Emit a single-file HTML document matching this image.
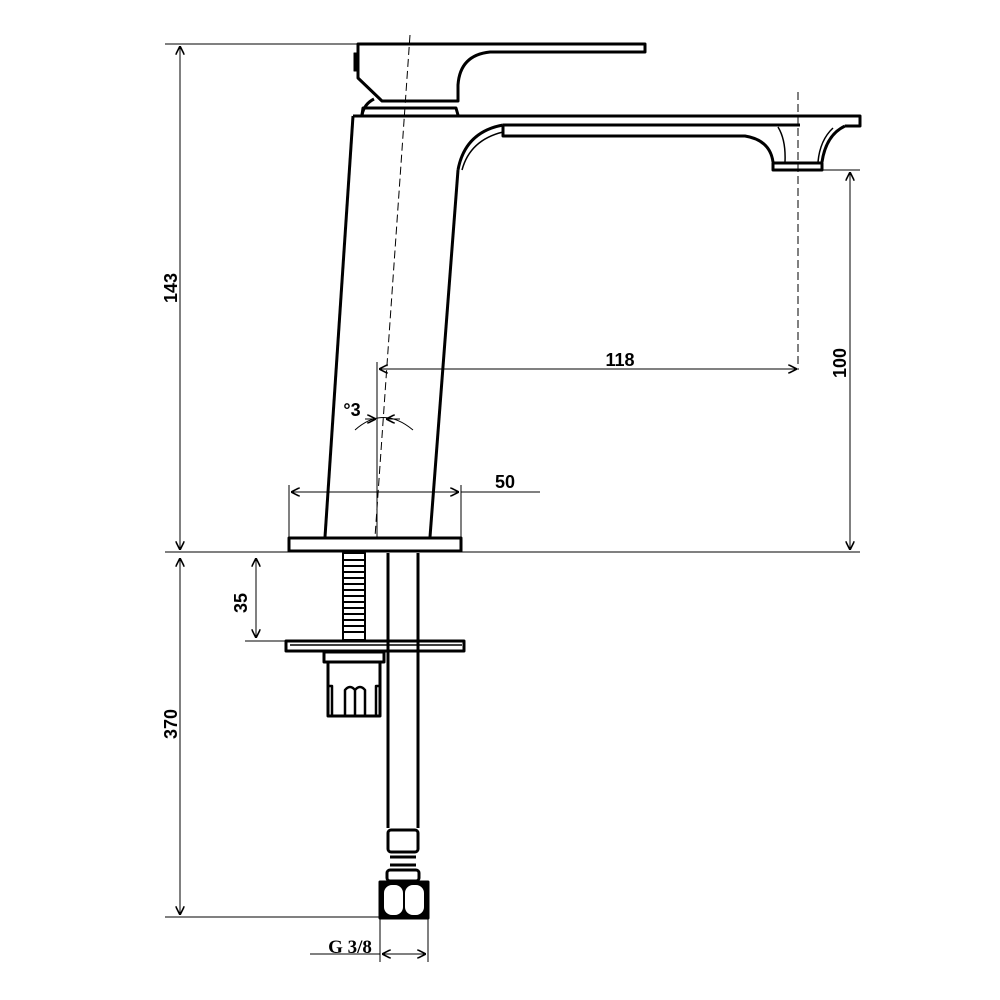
<!DOCTYPE html>
<html><head><style>html,body{margin:0;padding:0;background:#fff}svg{display:block}</style></head><body>
<svg width="1000" height="1000" viewBox="0 0 1000 1000" xmlns="http://www.w3.org/2000/svg" font-family="Liberation Sans, sans-serif">
<defs>
<marker id="a" viewBox="0 0 10 10" refX="10" refY="5" markerWidth="9" markerHeight="9" orient="auto-start-reverse" markerUnits="userSpaceOnUse"><path d="M0,0 L10,5 L0,10" fill="none" stroke="#000" stroke-width="1.8"/></marker>
</defs>
<g stroke="#000" fill="none" stroke-width="1">
<line x1="165" y1="44" x2="358" y2="44"/>
<line x1="165" y1="552" x2="860" y2="552"/>
<line x1="822" y1="170" x2="860" y2="170"/>
<line x1="165" y1="917" x2="380" y2="917"/>
<line x1="245" y1="641" x2="285" y2="641"/>
<line x1="289" y1="485" x2="289" y2="538"/>
<line x1="461" y1="485" x2="461" y2="538"/>
<line x1="461" y1="492" x2="540" y2="492"/>
<line x1="377" y1="362" x2="377" y2="537"/>
<line x1="380" y1="918" x2="380" y2="962"/>
<line x1="428" y1="918" x2="428" y2="962"/>
<line x1="310" y1="954" x2="380" y2="954"/>
<line x1="180" y1="46" x2="180" y2="550" marker-start="url(#a)" marker-end="url(#a)"/>
<line x1="180" y1="558" x2="180" y2="915" marker-start="url(#a)" marker-end="url(#a)"/>
<line x1="850" y1="172" x2="850" y2="550" marker-start="url(#a)" marker-end="url(#a)"/>
<line x1="379" y1="369" x2="797" y2="369" marker-start="url(#a)" marker-end="url(#a)"/>
<line x1="291" y1="492" x2="459" y2="492" marker-start="url(#a)" marker-end="url(#a)"/>
<line x1="256" y1="558" x2="256" y2="638" marker-start="url(#a)" marker-end="url(#a)"/>
<line x1="382" y1="954" x2="426" y2="954" marker-start="url(#a)" marker-end="url(#a)"/>
<path d="M355,430 Q383,405 413,430"/>
<line x1="365" y1="419" x2="376" y2="419" marker-end="url(#a)"/>
<line x1="400" y1="419" x2="386" y2="419" marker-end="url(#a)"/>
<line x1="410" y1="35" x2="375" y2="537" stroke-dasharray="8,4"/>
<line x1="798" y1="92" x2="798" y2="370" stroke-dasharray="8,4"/>
</g>
<g stroke="#000" fill="none" stroke-width="3" stroke-linejoin="round">
<path d="M358,44 L645,44 L645,52 L490,52 Q460,55 458,85 L458,101 L382,101 L358,78 Z"/>
<rect x="354" y="53" width="3" height="18" fill="#000" stroke-width="1"/>
<path d="M362,115 Q364,104 374,99"/>
<path d="M362,115 L363,108 L456,108 L458,115"/>
<path d="M353,116 L860,116 L860,126 L845,126"/>
<path d="M503,125 L800,125"/>
<path d="M503,125 L503,136 L745,136 Q770,140 773,162"/>
<path d="M503,125 Q465,132 458,170"/>
<path d="M503,132 Q470,140 462,170" stroke-width="1.5"/>
<path d="M773,163 L822,163 L822,170 L773,170 Z"/>
<path d="M845,126 Q826,135 822,162"/>
<path d="M833,128 Q820,140 818,162" stroke-width="1.5"/>
<path d="M778,127 Q786,140 785,162" stroke-width="1.5"/>
<line x1="353" y1="116" x2="325" y2="537"/>
<line x1="458" y1="170" x2="430" y2="537"/>
<rect x="289" y="538" width="172" height="13"/>
<rect x="343" y="553" width="22" height="87" stroke-width="2"/>
<path d="M343,560 L365,560 M343,566 L365,566 M343,572 L365,572 M343,578 L365,578 M343,584 L365,584 M343,590 L365,590 M343,596 L365,596 M343,602 L365,602 M343,608 L365,608 M343,614 L365,614 M343,620 L365,620 M343,626 L365,626 M343,632 L365,632" stroke-width="2"/>
<line x1="388" y1="553" x2="388" y2="828"/>
<line x1="418" y1="553" x2="418" y2="828"/>
<rect x="286" y="641" width="178" height="10"/>
<line x1="290" y1="645" x2="462" y2="645" stroke-width="1.5"/>
<rect x="324" y="652" width="60" height="10"/>
<rect x="328" y="662" width="52" height="54"/>
<path d="M328,686 L332,686 L332,716 M380,686 L376,686 L376,716 M345,716 L345,690 Q350,684 355,690 L355,716 M355,716 L355,690 Q360,684 365,690 L365,716" stroke-width="2.5"/>
<rect x="388" y="830" width="30" height="22" rx="3"/>
<line x1="390" y1="857" x2="416" y2="857"/>
<line x1="390" y1="865" x2="416" y2="865"/>
<rect x="387" y="870" width="32" height="11" rx="3"/>
<rect x="380" y="882" width="48" height="36" fill="#000"/>
<rect x="384" y="885" width="19" height="30" rx="8" fill="#fff" stroke="none"/>
<rect x="405" y="885" width="19" height="30" rx="8" fill="#fff" stroke="none"/>
</g>
<g font-size="18" font-weight="bold" fill="#000">
<text x="620" y="366" text-anchor="middle">118</text>
<text x="505" y="488" text-anchor="middle">50</text>
<text x="352" y="416" text-anchor="middle">°3</text>
<text x="350" y="953" text-anchor="middle" font-family="Liberation Serif, serif" font-size="19">G 3/8</text>
<text transform="translate(177,288) rotate(-90)" text-anchor="middle">143</text>
<text transform="translate(846,363) rotate(-90)" text-anchor="middle">100</text>
<text transform="translate(177,724) rotate(-90)" text-anchor="middle">370</text>
<text transform="translate(247,603) rotate(-90)" text-anchor="middle">35</text>
</g>
</svg>
</body></html>
